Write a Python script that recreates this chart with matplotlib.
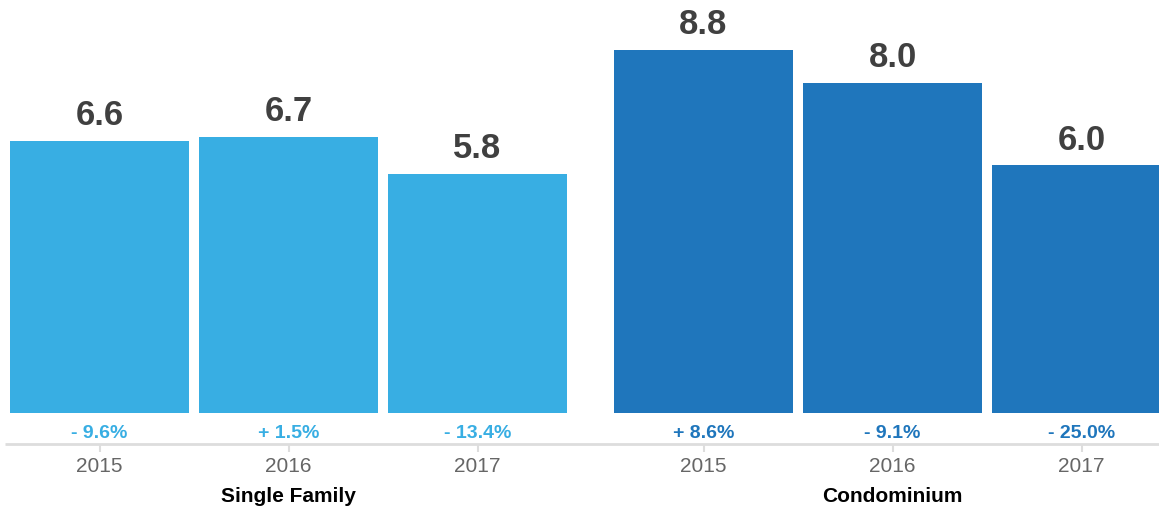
import matplotlib
matplotlib.use("Agg")
import matplotlib.pyplot as plt
import numpy as np

plt.rcParams['font.family'] = ['Liberation Sans', 'DejaVu Sans']

groups = ["Single Family", "Condominium"]
years = ["2015", "2016", "2017"]
single_family = [6.6, 6.7, 5.8]
condominium = [8.8, 8.0, 6.0]
sf_change = ["- 9.6%", "+ 1.5%", "- 13.4%"]
condo_change = ["+ 8.6%", "- 9.1%", "- 25.0%"]

colors = ["#38aee3", "#1f76bc"]
value_color = "#404040"
year_color = "#666666"
axis_color = "#dddddd"

W, H = 1159, 511
fig = plt.figure(figsize=(W / 100, H / 100), dpi=100)
ax = fig.add_axes([0, 0, 1, 1])

# scale: pixel mapping
px_per_slot = 189.0
px_per_unit = 41.25
first_center_px = 99.5
base_px = 413.0

def sx(px):
    return (px - first_center_px) / px_per_slot

def sy(py):
    return (base_px - py) / px_per_unit

ax.set_xlim(sx(0), sx(W))
ax.set_ylim(sy(H), sy(0))
ax.axis("off")

bar_group_gap = 226.0 / px_per_slot - 1.0
bar_width = 179.0 / px_per_slot

series = [single_family, condominium]
changes = [sf_change, condo_change]

for g, (vals, chg) in enumerate(zip(series, changes)):
    xs = np.arange(len(vals)) + g * (len(vals) + bar_group_gap)
    ax.bar(xs, vals, width=bar_width, color=colors[g], align="center",
           linewidth=0, zorder=2)
    for x, v in zip(xs, vals):
        ax.annotate(f"{v:.1f}", (x, v), xytext=(0, 11.5), textcoords="offset points",
                    ha="center", va="baseline", fontsize=25, fontweight="bold",
                    color=value_color)
    for tx, c, yr in zip(xs, chg, years):
        ax.text(tx, sy(433), c, ha="center", va="center", fontsize=14,
                fontweight="bold", color=colors[g])
        ax.text(tx, sy(466), yr, ha="center", va="center", fontsize=15,
                color=year_color)
        ax.vlines(tx, sy(452), sy(444), color=axis_color, linewidth=1.5, zorder=1)
    ax.text(xs[1], sy(496), groups[g], ha="center", va="center", fontsize=15,
            fontweight="bold", color="black")

ax.hlines(sy(444), sx(5), sx(W), color=axis_color, linewidth=2, zorder=1)

fig.savefig("out.png", dpi=100)
